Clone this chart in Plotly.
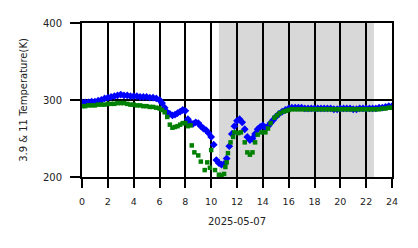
import plotly.graph_objects as go

# hours and brightness temperatures (K)
hours_b = [0.0, 0.25, 0.5, 0.75, 1.0, 1.25, 1.5, 1.75, 2.0, 2.25, 2.5, 2.75, 3.0, 3.25, 3.5, 3.75,
           4.0, 4.25, 4.5, 4.75, 5.0, 5.25, 5.5, 5.75, 6.0, 6.2, 6.4, 6.6, 6.8, 7.0, 7.2, 7.4, 7.6,
           7.8, 8.0, 8.2, 8.4, 8.6, 8.8, 9.0, 9.2, 9.4, 9.6, 9.8, 10.0, 10.2, 10.4, 10.6, 10.8,
           11.0, 11.2, 11.4, 11.6, 11.8, 12.0, 12.2, 12.4, 12.6, 12.8, 13.0, 13.2, 13.4, 13.6,
           13.8, 14.0, 14.2, 14.4, 14.6, 14.8, 15.0, 15.25, 15.5, 15.75,
           16.0, 16.25, 16.5, 16.75, 17.0, 17.25, 17.5, 17.75, 18.0, 18.25, 18.5, 18.75,
           19.0, 19.25, 19.5, 19.75, 20.0, 20.25, 20.5, 20.75, 21.0, 21.25, 21.5, 21.75,
           22.0, 22.25, 22.5, 22.75, 23.0, 23.25, 23.5, 23.75, 24.0]
temp_b = [297, 297, 297, 298, 298, 299, 300, 302, 303, 304, 305, 306, 307, 306, 306, 305,
          305, 305, 304, 304, 304, 303, 303, 302, 300, 296, 290, 284, 282, 280, 281, 283, 285,
          287, 286, 275, 270, 269, 271, 270, 266, 263, 261, 257, 252, 242, 222, 218, 216,
          217, 224, 240, 256, 266, 273, 275, 271, 262, 252, 248, 250, 256, 262, 265, 267, 264,
          266, 270, 274, 278, 282, 285, 287,
          289, 290, 290, 290, 290, 289, 289, 289, 289, 289, 289, 289,
          289, 289, 288, 288, 289, 289, 289, 289, 288, 288, 289, 289,
          289, 289, 289, 289, 290, 290, 291, 292, 292]

hours_g = [0.0, 0.25, 0.5, 0.75, 1.0, 1.25, 1.5, 1.75, 2.0, 2.25, 2.5, 2.75, 3.0, 3.25, 3.5, 3.75,
           4.0, 4.25, 4.5, 4.75, 5.0, 5.25, 5.5, 5.75, 6.0, 6.2, 6.4, 6.6, 6.8, 7.0, 7.2, 7.4, 7.6,
           7.8, 8.0, 8.2, 8.4, 8.5, 8.7, 9.0, 9.2, 9.5, 9.7, 9.9, 10.0, 10.3, 10.6, 10.8,
           11.0, 11.1, 11.2, 11.3, 11.5, 11.7, 11.8, 12.1, 12.3, 12.6, 12.8, 13.0, 13.2, 13.4, 13.6,
           13.9, 14.2, 14.4, 14.6, 14.9, 15.1, 15.3, 15.6, 15.8,
           16.0, 16.25, 16.5, 16.75, 17.0, 17.25, 17.5, 17.75, 18.0, 18.25, 18.5, 18.75,
           19.0, 19.25, 19.5, 19.75, 20.0, 20.25, 20.5, 20.75, 21.0, 21.25, 21.5, 21.75,
           22.0, 22.25, 22.5, 22.75, 23.0, 23.25, 23.5, 23.75, 24.0]
temp_g = [292, 292, 293, 293, 293, 294, 294, 294, 295, 295, 295, 296, 296, 296, 295, 294,
          294, 293, 293, 292, 292, 291, 291, 290, 289, 287, 284, 278, 268, 264, 265, 266, 268,
          270, 270, 266, 267, 241, 232, 228, 220, 209, 219, 212, 235, 209, 203, 202,
          204, 213, 219, 231, 245, 252, 258, 257, 258, 245, 232, 229, 232, 245, 255,
          258, 258, 263, 270, 277, 280, 283, 285, 286,
          287, 288, 288, 288, 288, 288, 288, 288, 288, 288, 288, 288,
          288, 288, 288, 288, 288, 288, 288, 288, 288, 288, 288, 288,
          288, 288, 288, 288, 288, 289, 289, 290, 290]

shade_start, shade_end = 10.6, 22.6
x_ticks = list(range(0, 25, 2))
y_ticks = [200, 300, 400]

fig = go.Figure()
fig.add_shape(type="rect", xref="x", yref="y", x0=shade_start, x1=shade_end, y0=200, y1=400,
              fillcolor="#d8d8d8", line=dict(width=0), layer="below")
fig.add_trace(go.Scatter(x=hours_b, y=temp_b, mode="markers",
                         marker=dict(color="#0000ff", size=6, symbol="diamond", line=dict(width=0)),
                         showlegend=False))
fig.add_trace(go.Scatter(x=hours_g, y=temp_g, mode="markers",
                         marker=dict(color="#008000", size=4.5, symbol="square", line=dict(width=0)),
                         showlegend=False))

fig.update_layout(
    width=418, height=248,
    margin=dict(l=82, r=26, t=23, b=71),
    paper_bgcolor="white", plot_bgcolor="white",
    font=dict(family="DejaVu Sans", size=10, color="#222"),
    xaxis=dict(range=[0, 24], tickvals=x_ticks, ticks="outside", ticklen=9, tickwidth=2,
               tickcolor="black", showgrid=True, gridcolor="black", gridwidth=2,
               zeroline=False, showline=True, mirror=True, linecolor="black", linewidth=2,
               tickfont=dict(size=9.5), ticklabelstandoff=6,
               title=dict(text="2025-05-07", font=dict(size=10), standoff=12)),
    yaxis=dict(range=[200, 400], tickvals=y_ticks, ticks="outside", ticklen=10, tickwidth=2,
               tickcolor="black", showgrid=True, gridcolor="black", gridwidth=2,
               zeroline=False, showline=True, mirror=True, linecolor="black", linewidth=2,
               tickfont=dict(size=10), ticklabelstandoff=6,
               title=dict(text="3.9 &amp; 11 Temperature(K)", font=dict(size=10), standoff=13)),
)
fig.write_html("out.html")
